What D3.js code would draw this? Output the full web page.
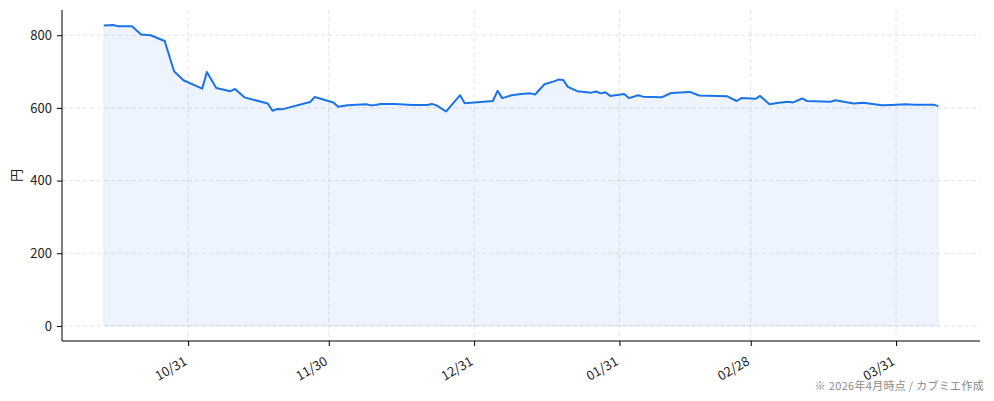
<!DOCTYPE html>
<html>
<head>
<meta charset="utf-8">
<script src="https://cdn.jsdelivr.net/npm/d3@7"></script>
<style>
  body { margin: 0; background: #fff; }
  text { font-family: "Noto Sans CJK JP", "Noto Sans", sans-serif; }
</style>
</head>
<body>
<div id="chart"></div>
<script>
// Data
var dates = ["2025-10-13","2025-10-15","2025-10-16","2025-10-19","2025-10-21","2025-10-23","2025-10-26","2025-10-28","2025-10-30",
  "2025-11-03","2025-11-04","2025-11-06","2025-11-09","2025-11-10","2025-11-12","2025-11-17","2025-11-18","2025-11-19","2025-11-20",
  "2025-11-26","2025-11-27","2025-12-01","2025-12-02","2025-12-04","2025-12-08","2025-12-09","2025-12-10","2025-12-11","2025-12-14",
  "2025-12-18","2025-12-21","2025-12-22","2025-12-23","2025-12-25","2025-12-28","2025-12-29","2026-01-04","2026-01-05","2026-01-06",
  "2026-01-08","2026-01-10","2026-01-12","2026-01-13","2026-01-15","2026-01-17","2026-01-18","2026-01-19","2026-01-20","2026-01-22",
  "2026-01-25","2026-01-26","2026-01-27","2026-01-28","2026-01-29","2026-02-01","2026-02-02","2026-02-04","2026-02-05","2026-02-09",
  "2026-02-11","2026-02-15","2026-02-17","2026-02-23","2026-02-25","2026-02-26","2026-03-01","2026-03-02","2026-03-04","2026-03-06",
  "2026-03-08","2026-03-09","2026-03-11","2026-03-12","2026-03-17","2026-03-18","2026-03-22","2026-03-24","2026-03-28","2026-03-30",
  "2026-04-02","2026-04-04","2026-04-08","2026-04-09"];
var prices = [827,828,825,825,802,800,784,701,676,
  653,699,655,646,652,629,612,592,597,596,
  616,630,615,603,607,610,607,608,611,611,
  608,608,611,607,590,635,613,619,647,627,
  635,638,640,637,665,673,678,677,658,646,
  642,645,640,643,633,638,627,635,631,629,
  641,644,634,632,619,627,625,633,610,614,
  617,615,626,619,617,621,612,614,607,608,
  610,609,609,605];
var tickDates = ["2025-10-31","2025-11-30","2025-12-31","2026-01-31","2026-02-28","2026-03-31"];
var yTicks = [0, 200, 400, 600, 800];
var yLabel = "円";
var note = "※ 2026年4月時点 / カブミエ作成";

var width = 994, height = 401;
var plotLeft = 62, plotRight = 980, plotTop = 10, plotBottom = 341;
var lineColor = "#1a73e8";

var parse = d3.timeParse("%Y-%m-%d");
var data = dates.map((d, i) => ({date: parse(d), value: prices[i]}));

var svg = d3.select("#chart").append("svg")
    .attr("width", width)
    .attr("height", height);

// Scales (5% padding like matplotlib)
var tExt = d3.extent(data, d => d.date);
var tPad = (tExt[1] - tExt[0]) * 0.05;
var x = d3.scaleTime()
    .domain([new Date(+tExt[0] - tPad), new Date(+tExt[1] + tPad)])
    .range([plotLeft, plotRight]);
var yMax = d3.max(prices);
var y = d3.scaleLinear()
    .domain([-yMax * 0.05, yMax * 1.05])
    .range([plotBottom, plotTop]);

var ticks = tickDates.map(parse);

// Grid
svg.append("g").selectAll("line")
    .data(yTicks).enter().append("line")
    .attr("x1", plotLeft).attr("x2", plotRight)
    .attr("y1", d => y(d)).attr("y2", d => y(d))
    .style("stroke", "#dcdcdc").style("stroke-width", 0.8)
    .style("stroke-dasharray", "4,3");
svg.append("g").selectAll("line")
    .data(ticks).enter().append("line")
    .attr("x1", d => x(d)).attr("x2", d => x(d))
    .attr("y1", plotTop).attr("y2", plotBottom)
    .style("stroke", "#dcdcdc").style("stroke-width", 0.8)
    .style("stroke-dasharray", "4,3");

// Area + line
svg.append("path")
    .datum(data)
    .attr("d", d3.area().x(d => x(d.date)).y0(y(0)).y1(d => y(d.value)))
    .style("fill", lineColor).style("fill-opacity", 0.08)
    .style("stroke", lineColor).style("stroke-opacity", 0.08);

svg.append("path")
    .datum(data)
    .attr("d", d3.line().x(d => x(d.date)).y(d => y(d.value)))
    .style("fill", "none")
    .style("stroke", lineColor)
    .style("stroke-width", 2)
    .style("stroke-linejoin", "round");

// Axes
var xAxis = d3.axisBottom(x).tickValues(ticks).tickFormat(d3.timeFormat("%m/%d")).tickSize(5).tickSizeOuter(0);
var yAxis = d3.axisLeft(y).tickValues(yTicks).tickSize(5).tickSizeOuter(0);

var xAxisG = svg.append("g")
    .attr("transform", "translate(0," + plotBottom + ")")
    .call(xAxis);
xAxisG.select(".domain").attr("d", "M" + plotLeft + ",0H" + plotRight).style("stroke", "#000");
xAxisG.selectAll("text")
    .style("font-size", "13px").style("fill", "#222")
    .attr("text-anchor", "end")
    .attr("dy", "0.35em")
    .attr("transform", "translate(-3,19) rotate(-30)")
    .attr("y", 0).attr("x", 0);

var yAxisG = svg.append("g")
    .attr("transform", "translate(" + plotLeft + ",0)")
    .call(yAxis);
yAxisG.select(".domain").attr("d", "M0," + plotBottom + "V" + plotTop).style("stroke", "#000");
yAxisG.selectAll("text").style("font-size", "13px").style("fill", "#222").attr("x", -10);

svg.append("text")
    .attr("transform", "translate(21," + ((plotTop + plotBottom) / 2) + ") rotate(-90)")
    .attr("text-anchor", "middle")
    .style("font-size", "13px").style("fill", "#222")
    .text(yLabel);

svg.append("text")
    .attr("x", 984).attr("y", 390)
    .attr("text-anchor", "end")
    .style("font-size", "11px").style("letter-spacing", "0.3px").style("fill", "#8a8a8a")
    .text(note);
</script>
</body>
</html>
